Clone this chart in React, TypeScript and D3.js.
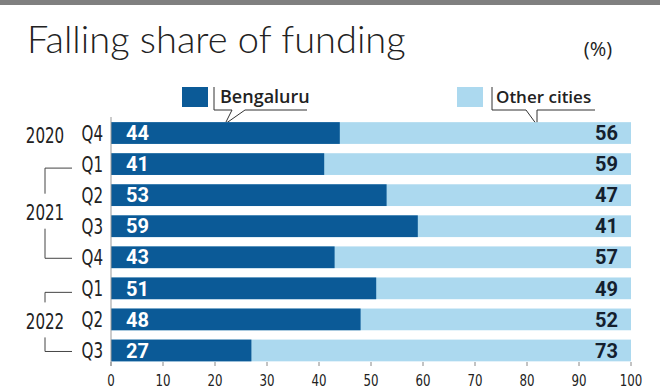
import React from 'react';
import * as d3 from 'd3';

// Quarterly share of startup funding (%)
const quarters = ['Q4', 'Q1', 'Q2', 'Q3', 'Q4', 'Q1', 'Q2', 'Q3'];
const years = ['2020', '2021', '2021', '2021', '2021', '2022', '2022', '2022'];
const bengaluru = [44, 41, 53, 59, 43, 51, 48, 27];
const otherCities = [56, 59, 47, 41, 57, 49, 52, 73];
const xTicks = [0, 10, 20, 30, 40, 50, 60, 70, 80, 90, 100];

const DARK = '#0b5a97';
const LIGHT = '#acd9ef';
const narrow = "'Liberation Sans Narrow', 'DejaVu Sans Condensed', sans-serif";

const width = 660;
const height = 392;

// condensed text: squeeze horizontally around the anchor point
const Squeezed = ({ x, y, anchor = 'start', size, sx = 0.8, children }: any) => (
  <g transform={`translate(${x},${y}) scale(${sx},1)`}>
    <text dy="0.36em" textAnchor={anchor} fontFamily={narrow} fontSize={size} fill="#222">
      {children}
    </text>
  </g>
);

const App = () => {
  const rows = d3.range(quarters.length);
  const x = d3.scaleLinear().domain([0, 100]).range([111, 631]);
  const y = d3.scaleBand<number>().domain(rows).range([117.5, 366]).paddingInner(0.3).paddingOuter(0.15);
  const bw = y.bandwidth();
  const cy = (i: number) => (y(i) as number) + bw / 2;

  // group rows by year for the bracket labels
  const groups = d3.groups(rows, (i) => years[i]);

  return (
    <svg width={width} height={height} style={{ position: 'absolute', left: 0, top: 0 }}>
      <rect x={0} y={0} width={width} height={5} fill="#808080" />
      <text x={27} y={53} fontFamily="Lato, 'Open Sans', sans-serif" fontWeight={300} fontSize={38} fill="#222">
        Falling share of funding
      </text>
      <text x={598} y={56} textAnchor="middle" fontFamily="'Open Sans', sans-serif" fontSize={20} fill="#222">
        (%)
      </text>

      {/* legend with callout lines */}
      <g fill="none" stroke="#333" strokeWidth={1}>
        <path d="M214,87V110H232L225,124L245,110H307" />
        <path d="M492,87V110H526L537,125V110H595" />
      </g>
      <rect x={182} y={87} width={26} height={20} fill={DARK} />
      <rect x={457} y={87} width={26} height={20} fill={LIGHT} />
      <text x={220} y={103} fontFamily="'Open Sans', sans-serif" fontWeight={600} fontSize={18} fill="#222">
        Bengaluru
      </text>
      <text x={496} y={103} fontFamily="'Open Sans', sans-serif" fontWeight={600} fontSize={17} fill="#222">
        Other cities
      </text>

      {/* bars */}
      {rows.map((i) => (
        <g key={i}>
          <rect x={x(0)} y={y(i)} width={x(100) - x(0)} height={bw} fill={LIGHT} />
          <rect x={x(0)} y={y(i)} width={x(bengaluru[i]) - x(0)} height={bw} fill={DARK} />
          <text x={x(0) + 15} y={cy(i)} dy="0.36em" fontFamily="Roboto, sans-serif" fontWeight={700} fontSize={20} fill="#fff">
            {bengaluru[i]}
          </text>
          <text x={x(100) - 13} y={cy(i)} dy="0.36em" textAnchor="end" fontFamily="Roboto, sans-serif" fontWeight={700} fontSize={20} fill="#14202e">
            {otherCities[i]}
          </text>
          <Squeezed x={103} y={cy(i)} anchor="end" size={21}>
            {quarters[i]}
          </Squeezed>
        </g>
      ))}

      {/* year labels with brackets */}
      {groups.map(([yr, idx]) => {
        const top = cy(idx[0]);
        const bot = cy(idx[idx.length - 1]);
        const mid = (top + bot) / 2 + 2;
        return (
          <g key={yr}>
            <Squeezed x={45} y={mid} anchor="middle" size={21}>
              {yr}
            </Squeezed>
            {idx.length > 1 && (
              <path
                d={`M72,${top + 4}H45V${mid - 19}M45,${mid + 16}V${bot + 1}H72`}
                fill="none"
                stroke="#444"
                strokeWidth={1}
              />
            )}
          </g>
        );
      })}

      {/* axis */}
      <line x1={x(0)} x2={x(0)} y1={117} y2={366} stroke="#999" strokeWidth={1} />
      {xTicks.map((t) => (
        <g key={t}>
          <line x1={x(t)} x2={x(t)} y1={362} y2={366} stroke="#888" strokeWidth={1} />
          <Squeezed x={x(t)} y={380} anchor="middle" size={16} sx={0.82}>
            {t}
          </Squeezed>
        </g>
      ))}
    </svg>
  );
};

export default App;
